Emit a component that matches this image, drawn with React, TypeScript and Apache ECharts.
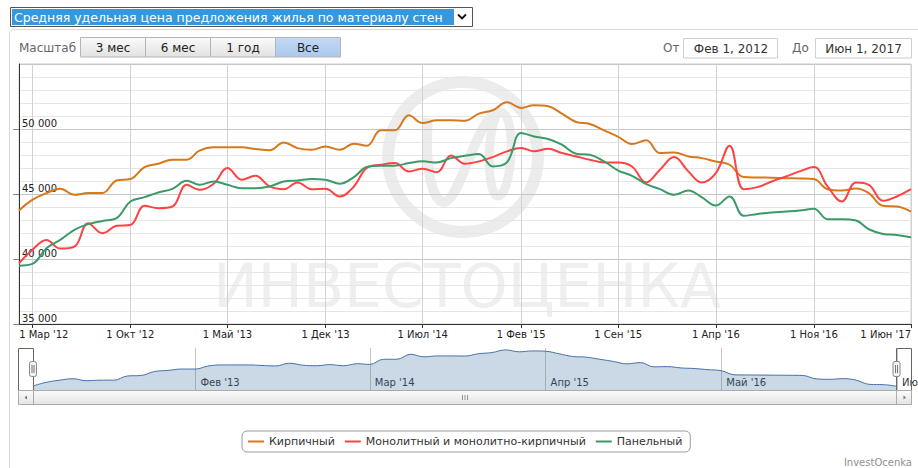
import React, { useEffect, useRef } from 'react';
import * as echarts from 'echarts';

const months = [
  '2012-02', '2012-03', '2012-04', '2012-05', '2012-06', '2012-07', '2012-08', '2012-09', '2012-10', '2012-11', '2012-12',
  '2013-01', '2013-02', '2013-03', '2013-04', '2013-05', '2013-06', '2013-07', '2013-08', '2013-09', '2013-10', '2013-11', '2013-12',
  '2014-01', '2014-02', '2014-03', '2014-04', '2014-05', '2014-06', '2014-07', '2014-08', '2014-09', '2014-10', '2014-11', '2014-12',
  '2015-01', '2015-02', '2015-03', '2015-04', '2015-05', '2015-06', '2015-07', '2015-08', '2015-09', '2015-10', '2015-11', '2015-12',
  '2016-01', '2016-02', '2016-03', '2016-04', '2016-05', '2016-06', '2016-07', '2016-08', '2016-09', '2016-10', '2016-11', '2016-12',
  '2017-01', '2017-02', '2017-03', '2017-04', '2017-05', '2017-06',
];

const brick = [
  43730, 44550, 45070, 45400, 44940, 45070, 45070, 46040, 46150, 47070, 47330,
  47640, 47640, 48330, 48590, 48590, 48590, 48460, 48360, 48970, 48530, 48400, 48660,
  48400, 48870, 48710, 49900, 49900, 51050, 50460, 50670, 50670, 50640, 51180, 51440,
  52060, 51620, 51820, 51750, 51180, 50540, 50390, 49900, 49400, 48840, 49130, 48150,
  48200, 47890, 47760, 47500, 47250, 46300, 46270, 46250, 46220, 46200, 46150, 45370,
  45270, 45420, 45070, 44090, 44040, 43650,
];

const monolith = [
  39670, 40700, 41470, 40800, 40950, 42750, 41980, 42550, 42620, 44090, 43910,
  44040, 45710, 45320, 45790, 47000, 46100, 46400, 45580, 45370, 45890, 45370, 45400,
  44810, 45580, 47000, 47250, 47380, 46740, 46940, 46680, 47970, 47330, 47510, 47840,
  48280, 48540, 48280, 48480, 48150, 47890, 47640, 47430, 47430, 47120, 45890, 46860,
  47840, 46740, 45890, 46610, 48720, 45370, 45530, 45960, 46350, 46740, 47070, 45580,
  44420, 45890, 45710, 44480, 44810, 45370,
];

const panel = [
  39490, 39620, 40820, 41470, 42240, 42680, 42930, 43140, 44420, 44760, 45120,
  45400, 46020, 45710, 45960, 45710, 45450, 45450, 45580, 45960, 46040, 46150, 46100,
  45790, 46300, 47070, 47170, 47170, 47380, 47510, 47430, 47760, 47940, 48070, 47120,
  47430, 49690, 49430, 49230, 48790, 48100, 48020, 47510, 46800, 46400, 45760, 45370,
  44940, 45270, 44760, 44110, 44810, 43320, 43470, 43580, 43650, 43730, 43860, 43060,
  43060, 42960, 42290, 41930, 41850, 41670,
];

const seriesNames = ['Кирпичный', 'Монолитный и монолитно-кирпичный', 'Панельный'];
const seriesColors = ['#d8781c', '#ff4242', '#3c9a68'];
const xTickMonths = ['2012-03', '2012-10', '2013-05', '2013-12', '2014-07', '2015-02', '2015-09', '2016-04', '2016-11', '2017-06'];
const navTickMonths = ['2013-02', '2014-03', '2015-04', '2016-05', '2017-06'];
const monthNames = ['Янв', 'Фев', 'Мар', 'Апр', 'Май', 'Июн', 'Июл', 'Авг', 'Сен', 'Окт', 'Ноя', 'Дек'];
const rangeButtons = ['3 мес', '6 мес', '1 год', 'Все'];
const selectedRange = 'Все';
const rangeStart = '2012-02';
const rangeEnd = '2017-06';
const fromLabel = 'Фев 1, 2012';
const toLabel = 'Июн 1, 2017';
const titleText = 'Средняя удельная цена предложения жилья по материалу стен';
const yMin = 35000;
const yMax = 55000;
const yStep = 5000;
const navMin = 42800;
const navMax = 52500;

const F = 'DejaVu Sans, Verdana, sans-serif';

const ts = (ym: string) => {
  const [y, m] = ym.split('-').map(Number);
  return Date.UTC(y, m - 1, 1);
};

export default function App() {
  const ref = useRef<HTMLDivElement>(null);

  useEffect(() => {
    const el = ref.current;
    if (!el) return;
    const chart = echarts.init(el, undefined, { renderer: 'svg' });

    const xTicks = xTickMonths.map(ts);
    const navTicks = navTickMonths.map(ts);
    const toData = (arr: number[]) => arr.map((v, i) => [ts(months[i]), v]);

    const btnGrad = new echarts.graphic.LinearGradient(0, 0, 0, 1, [
      { offset: 0, color: '#fafafa' },
      { offset: 1, color: '#e2e2e2' },
    ]);
    const selGrad = new echarts.graphic.LinearGradient(0, 0, 0, 1, [
      { offset: 0, color: '#c4daf5' },
      { offset: 1, color: '#aac8ee' },
    ]);
    const scrollGrad = new echarts.graphic.LinearGradient(0, 0, 0, 1, [
      { offset: 0, color: '#fbfbfb' },
      { offset: 1, color: '#e4e4e4' },
    ]);

    const txt = (x: number, y: number, text: string, opts: any = {}) => ({
      type: 'text',
      x,
      y,
      silent: true,
      style: {
        text,
        fontFamily: F,
        fontSize: opts.fontSize ?? 12,
        fill: opts.fill ?? '#333',
        align: opts.align ?? 'left',
        textAlign: opts.align ?? 'left',
        verticalAlign: 'middle',
        textVerticalAlign: 'middle',
        fontWeight: opts.fontWeight ?? 'normal',
      },
      z: opts.z ?? 10,
    });

    const graphics: any[] = [];
    graphics.push({ type: 'rect', shape: { x: 9.5, y: 29.5, width: 940, height: 500, r: 4 }, style: { fill: 'none', stroke: '#dadada', lineWidth: 1 }, silent: true, z: -5 });
    graphics.push({ type: 'rect', shape: { x: 10.5, y: 7.5, width: 462, height: 19 }, style: { fill: '#fff', stroke: '#555', lineWidth: 1 }, silent: true, z: 5 });
    graphics.push({ type: 'rect', shape: { x: 12, y: 9, width: 442, height: 16 }, style: { fill: '#3598dc' }, silent: true, z: 6 });
    graphics.push(txt(14, 17.5, titleText, { fill: '#ffffff', fontSize: 12.5 }));
    graphics.push({ type: 'polyline', shape: { points: [[458, 14.5], [462, 18.5], [466, 14.5]] }, style: { fill: 'none', stroke: '#111', lineWidth: 1.8 }, silent: true, z: 6 });
    graphics.push(txt(19, 47.5, 'Масштаб', { fill: '#666' }));
    rangeButtons.forEach((b, i) => {
      const x = 80 + 65 * i;
      graphics.push({ type: 'rect', shape: { x: x + 0.5, y: 37.5, width: 65, height: 19.5 }, style: { fill: b === selectedRange ? selGrad : btnGrad, stroke: '#b5b5b5', lineWidth: 1 }, silent: true, z: 5 });
      graphics.push(txt(x + 33, 47.5, b, { align: 'center', fill: '#222' }));
    });
    graphics.push(txt(663, 48, 'От', { fill: '#666' }));
    graphics.push({ type: 'rect', shape: { x: 683.5, y: 38.5, width: 94, height: 19.5 }, style: { fill: '#fff', stroke: '#cfcfcf', lineWidth: 1 }, silent: true, z: 5 });
    graphics.push(txt(731, 48.5, fromLabel, { align: 'center', fill: '#333' }));
    graphics.push(txt(792, 48, 'До', { fill: '#666' }));
    graphics.push({ type: 'rect', shape: { x: 815.5, y: 38.5, width: 96, height: 19.5 }, style: { fill: '#fff', stroke: '#cfcfcf', lineWidth: 1 }, silent: true, z: 5 });
    graphics.push(txt(863.5, 48.5, toLabel, { align: 'center', fill: '#333' }));
    const wm = { fill: 'none', stroke: '#ececec', lineWidth: 12 };
    graphics.push({ type: 'circle', shape: { cx: 463, cy: 157, r: 75 }, style: wm, silent: true, z: -1 });
    graphics.push({ type: 'bezierCurve', shape: { x1: 428, y1: 118, cpx1: 424, cpy1: 165, cpx2: 432, cpy2: 202, x2: 444, y2: 202 }, style: { ...wm, lineWidth: 10 }, silent: true, z: -1 });
    graphics.push({ type: 'bezierCurve', shape: { x1: 444, y1: 202, cpx1: 460, cpy1: 202, cpx2: 478, cpy2: 112, x2: 500, y2: 112 }, style: { ...wm, lineWidth: 10 }, silent: true, z: -1 });
    graphics.push({ type: 'bezierCurve', shape: { x1: 500, y1: 112, cpx1: 518, cpy1: 112, cpx2: 512, cpy2: 196, x2: 498, y2: 196 }, style: { ...wm, lineWidth: 9 }, silent: true, z: -1 });
    graphics.push({ type: 'bezierCurve', shape: { x1: 498, y1: 196, cpx1: 486, cpy1: 196, cpx2: 486, cpy2: 120, x2: 500, y2: 112 }, style: { ...wm, lineWidth: 9 }, silent: true, z: -1 });
    graphics.push(txt(467, 286, 'ИНВЕСТОЦЕНКА', { align: 'center', fill: '#efefef', fontSize: 60, z: -1 }));
    graphics.push({ type: 'polyline', shape: { points: [[18.5, 390], [18.5, 348.5], [33.5, 348.5], [33.5, 390]] }, style: { fill: 'none', stroke: '#666', lineWidth: 1 }, silent: true, z: 8 });
    graphics.push({ type: 'polyline', shape: { points: [[896.5, 390], [896.5, 348.5], [911.5, 348.5], [911.5, 390]] }, style: { fill: 'none', stroke: '#666', lineWidth: 1 }, silent: true, z: 8 });
    [33, 896.5].forEach((hx) => {
      graphics.push({ type: 'rect', shape: { x: hx - 3.5, y: 361.5, width: 7, height: 15, r: 2 }, style: { fill: '#f2f2f2', stroke: '#888', lineWidth: 1 }, silent: true, z: 9 });
      graphics.push({ type: 'line', shape: { x1: hx - 1, y1: 365, x2: hx - 1, y2: 373 }, style: { stroke: '#777', lineWidth: 1 }, silent: true, z: 10 });
      graphics.push({ type: 'line', shape: { x1: hx + 1, y1: 365, x2: hx + 1, y2: 373 }, style: { stroke: '#777', lineWidth: 1 }, silent: true, z: 10 });
    });
    graphics.push({ type: 'rect', shape: { x: 18.5, y: 390.5, width: 893, height: 14 }, style: { fill: '#eeeeee', stroke: '#bbb', lineWidth: 1 }, silent: true, z: 5 });
    graphics.push({ type: 'rect', shape: { x: 33.5, y: 390.5, width: 863, height: 14 }, style: { fill: scrollGrad, stroke: '#aaa', lineWidth: 1 }, silent: true, z: 6 });
    graphics.push({ type: 'rect', shape: { x: 18.5, y: 390.5, width: 15, height: 14 }, style: { fill: scrollGrad, stroke: '#aaa', lineWidth: 1 }, silent: true, z: 6 });
    graphics.push({ type: 'rect', shape: { x: 896.5, y: 390.5, width: 15, height: 14 }, style: { fill: scrollGrad, stroke: '#aaa', lineWidth: 1 }, silent: true, z: 6 });
    graphics.push({ type: 'polygon', shape: { points: [[24.5, 397.5], [27, 395.5], [27, 399.5]] }, style: { fill: '#777' }, silent: true, z: 7 });
    graphics.push({ type: 'polygon', shape: { points: [[906, 397.5], [903.5, 395.5], [903.5, 399.5]] }, style: { fill: '#777' }, silent: true, z: 7 });
    [462.5, 465, 467.5].forEach((gx) => {
      graphics.push({ type: 'line', shape: { x1: gx, y1: 395, x2: gx, y2: 400 }, style: { stroke: '#999', lineWidth: 1 }, silent: true, z: 7 });
    });
    graphics.push(txt(912, 462, 'InvestOcenka', { align: 'right', fill: '#909090', fontSize: 10 }));

    const fmtTick = (v: number) => {
      const d = new Date(v);
      return `1 ${monthNames[d.getUTCMonth()]} '${String(d.getUTCFullYear()).slice(2)}`;
    };
    const fmtNav = (v: number) => {
      const d = new Date(v);
      return `${monthNames[d.getUTCMonth()]} '${String(d.getUTCFullYear()).slice(2)}`;
    };

    const option: any = {
      animation: false,
      backgroundColor: '#ffffff',
      textStyle: { fontFamily: F },
      grid: [
        { left: 19, right: 7, top: 64, bottom: 144, show: true, borderColor: '#cccccc', borderWidth: 1, backgroundColor: 'transparent', outerBoundsMode: 'none', containLabel: false },
        { left: 33, right: 21, top: 348, bottom: 78, show: false, outerBoundsMode: 'none', containLabel: false },
      ],
      xAxis: [
        {
          type: 'value',
          gridIndex: 0,
          min: ts(rangeStart),
          max: ts(rangeEnd),
          axisLine: { show: true, onZero: false, lineStyle: { color: '#333', width: 1 } },
          axisTick: { show: true, customValues: xTicks, length: 4, lineStyle: { color: '#333' } },
          axisLabel: {
            customValues: xTicks,
            margin: 5,
            fontFamily: F,
            fontSize: 10,
            color: '#222',
            alignMaxLabel: 'right',
            formatter: (v: number) => (v === xTicks[0] ? `{first|${fmtTick(v)}}` : fmtTick(v)),
            rich: { first: { fontFamily: F, fontSize: 10, color: '#222', padding: [0, 0, 0, 23] } },
          },
          splitLine: { show: true, lineStyle: { color: '#d2d2d2', width: 1 } },
        },
        {
          type: 'value',
          gridIndex: 1,
          min: ts(rangeStart),
          max: ts(rangeEnd),
          axisLine: { show: false, onZero: false },
          axisTick: { show: false, customValues: navTicks },
          axisLabel: {
            customValues: navTicks,
            inside: true,
            align: 'left',
            margin: 3,
            padding: [0, 0, 0, 5],
            fontFamily: F,
            fontSize: 10,
            color: '#333',
            hideOverlap: false,
            formatter: (v: number) => fmtNav(v),
          },
          splitLine: { show: true, lineStyle: { color: '#c4c4c4', width: 1 } },
        },
      ],
      yAxis: [
        {
          type: 'value',
          gridIndex: 0,
          min: yMin,
          max: yMax,
          interval: yStep,
          axisLine: { show: true, lineStyle: { color: '#333', width: 1 } },
          axisTick: { show: true, length: 6, lineStyle: { color: '#888' } },
          axisLabel: {
            inside: true,
            margin: 3,
            verticalAlign: 'bottom',
            padding: [0, 0, 1, 0],
            showMaxLabel: false,
            fontFamily: F,
            fontSize: 10,
            color: '#222',
            formatter: (v: number) => `${Math.round(v / 1000)} 000`,
          },
          splitLine: { show: true, lineStyle: { color: '#c6c6c6', width: 1 } },
          minorTick: { show: false, splitNumber: 5 },
          minorSplitLine: { show: true, lineStyle: { color: '#e6e6e6', width: 1 } },
        },
        {
          type: 'value',
          gridIndex: 1,
          min: navMin,
          max: navMax,
          show: false,
          splitLine: { show: false },
        },
      ],
      legend: {
        data: seriesNames,
        left: 242,
        top: 431,
        orient: 'horizontal',
        icon: 'rect',
        itemWidth: 16,
        itemHeight: 2,
        itemGap: 10,
        padding: [5, 8, 5, 6],
        borderColor: '#9a9a9a',
        borderWidth: 1,
        borderRadius: 5,
        textStyle: { fontFamily: F, fontSize: 11, color: '#333' },
        selectedMode: false,
      },
      graphic: graphics,
      series: [
        ...[brick, monolith, panel].map((arr, i) => ({
          name: seriesNames[i],
          type: 'line',
          xAxisIndex: 0,
          yAxisIndex: 0,
          data: toData(arr),
          smooth: 0.4,
          showSymbol: false,
          symbol: 'none',
          lineStyle: { color: seriesColors[i], width: 2 },
          itemStyle: { color: seriesColors[i] },
          z: 3,
          silent: true,
        })),
        {
          name: 'nav',
          type: 'line',
          xAxisIndex: 1,
          yAxisIndex: 1,
          data: toData(brick),
          smooth: 0.4,
          showSymbol: false,
          symbol: 'none',
          lineStyle: { color: '#4572a7', width: 1 },
          areaStyle: { color: 'rgba(69,114,167,0.4)', origin: 'start' },
          silent: true,
          z: 2,
        },
      ],
    };

    chart.setOption(option);
    return () => chart.dispose();
  }, []);

  return <div ref={ref} style={{ position: 'absolute', left: 0, top: 0, width: 918, height: 468 }} />;
}
